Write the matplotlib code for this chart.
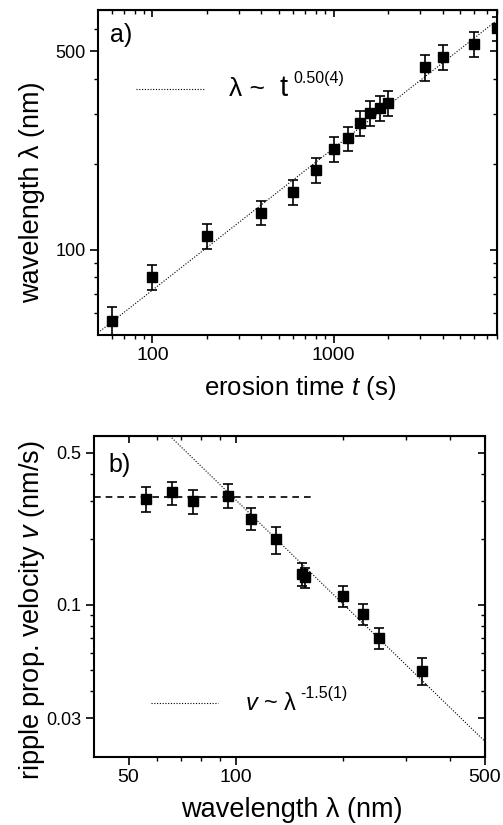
import numpy as np
import matplotlib.pyplot as plt

# panel a) ripple wavelength vs erosion time
t_a = [60, 100, 200, 400, 600, 800, 1000, 1200, 1400, 1600, 1800, 2000, 3200, 4000, 6000, 8000]
lam_a = [56, 80, 112, 135, 160, 191, 226, 247, 280, 303, 316, 330, 439, 479, 531, 603]
err_a = [7, 8, 11.5, 13, 16, 19, 23, 24, 28, 31, 31, 34, 46, 49, 53, 60]
fit_a = (7.2, 0.5)          # lambda = A * t^p

# panel b) ripple propagation velocity vs wavelength
lam_b = [56, 66, 76, 95, 110, 130, 153, 156, 200, 227, 252, 332]
v_b = [0.307, 0.329, 0.299, 0.318, 0.249, 0.200, 0.139, 0.134, 0.110, 0.0906, 0.0702, 0.0498]
err_b = [0.04, 0.04, 0.037, 0.04, 0.029, 0.028, 0.0165, 0.014, 0.012, 0.010, 0.0078, 0.007]
fit_b = (0.0235, 500, -1.59)  # v = A * (lambda/500)^p
plateau_b = (0.312, 166)      # constant level, drawn up to 166 nm

plt.rcParams['font.family'] = ['Liberation Sans', 'DejaVu Sans']
plt.rcParams['mathtext.fontset'] = 'custom'
plt.rcParams['mathtext.rm'] = 'Liberation Sans'
plt.rcParams['mathtext.it'] = 'Liberation Sans:italic'

W, H = 503, 825
fig = plt.figure(figsize=(W / 100, H / 100), dpi=100)


def px(x, y):
    return x / W, 1 - y / H


def style_axes(ax, major, minor, axis):
    for s in ax.spines.values():
        s.set_linewidth(1.5)
    sec = ax.secondary_xaxis('top') if axis == 'x' else ax.secondary_yaxis('right')
    sec.tick_params(which='major', direction='in', length=5, width=1.2)
    sec.tick_params(which='minor', direction='in', length=3, width=1.0)
    if axis == 'x':
        ax.tick_params(axis='x', which='major', direction='out', length=6, width=1.2, labelsize=14, pad=3)
        ax.tick_params(axis='x', which='minor', direction='out', length=3, width=1.0)
        ax.set_xticks(major)
        ax.set_xticks(minor, minor=True)
        ax.set_xticklabels([str(m) for m in major])
        ax.set_xticklabels([], minor=True)
        sec.set_xticks(major)
        sec.set_xticks(minor, minor=True)
        sec.set_xticklabels([])
        sec.set_xticklabels([], minor=True)
    else:
        ax.tick_params(axis='y', which='major', direction='out', length=6, width=1.2, labelsize=13, pad=3)
        ax.tick_params(axis='y', which='minor', direction='out', length=3, width=1.0)
        ax.set_yticks(major)
        ax.set_yticks(minor, minor=True)
        ax.set_yticklabels([str(m) for m in major])
        ax.set_yticklabels([], minor=True)
        sec.set_yticks(major)
        sec.set_yticks(minor, minor=True)
        sec.set_yticklabels([])
        sec.set_yticklabels([], minor=True)


# ---------------- panel a ----------------
axa = fig.add_axes([98 / W, 1 - 335 / H, 399 / W, 325 / H])
axa.set_xscale('log')
axa.set_yscale('log')
axa.set_xlim(50, 8000)
axa.set_ylim(50, 700)

tt = np.array(axa.get_xlim())
axa.plot(tt, fit_a[0] * tt ** fit_a[1], color='black', lw=0.8, ls=(0, (1, 1.5)))
axa.errorbar(t_a, lam_a, yerr=err_a, fmt='s', color='black', ms=6.5,
             capsize=3.5, elinewidth=1.2, capthick=1.2)

style_axes(axa, [100, 1000], [60, 70, 80, 90] + list(range(200, 1000, 100)) + list(range(2000, 9000, 1000)), 'x')
style_axes(axa, [100, 500], [60, 70, 80, 90, 200, 300, 400, 600], 'y')

axa.plot([0.095, 0.266], [0.757, 0.757], transform=axa.transAxes, color='black', lw=0.8, ls=(0, (1, 1.5)))
axa.text(0.328, 0.736, 'λ ~', transform=axa.transAxes, fontsize=19, va='baseline')
axa.text(0.456, 0.736, 't', transform=axa.transAxes, fontsize=21, va='baseline')
axa.text(0.489, 0.776, '0.50(4)', transform=axa.transAxes, fontsize=11.5, va='baseline')
axa.text(0.03, 0.923, 'a)', transform=axa.transAxes, fontsize=18, va='center')

fig.text(*px(32, 192), 'wavelength λ (nm)', rotation=90, fontsize=19.5, ha='center', va='center')
fig.text(*px(300, 388), 'erosion time $t$ (s)', fontsize=18.5, ha='center', va='center')

# ---------------- panel b ----------------
axb = fig.add_axes([94 / W, 1 - 756.7 / H, 391 / W, 321 / H])
axb.set_xscale('log')
axb.set_yscale('log')
axb.set_xlim(40, 500)
axb.set_ylim(0.02, 0.6)

ll = np.array(axb.get_xlim())
axb.plot(ll, fit_b[0] * (ll / fit_b[1]) ** fit_b[2], color='black', lw=0.8, ls=(0, (1, 1.5)))
axb.plot([ll[0], plateau_b[1]], [plateau_b[0], plateau_b[0]], color='black', lw=1.2, ls=(0, (4, 3)))
axb.errorbar(lam_b, v_b, yerr=err_b, fmt='s', color='black', ms=6.5,
             capsize=3.5, elinewidth=1.2, capthick=1.2)

style_axes(axb, [50, 100, 500], [60, 70, 80, 90, 200, 300, 400], 'x')
style_axes(axb, [0.03, 0.1, 0.5], [0.04, 0.05, 0.06, 0.07, 0.08, 0.09, 0.2, 0.3, 0.4], 'y')

axb.plot([0.147, 0.318], [0.167, 0.167], transform=axb.transAxes, color='black', lw=0.8, ls=(0, (1, 1.5)))
axb.text(0.386, 0.1455, '$v$ ~ λ', transform=axb.transAxes, fontsize=17, va='baseline')
axb.text(0.527, 0.183, '-1.5(1)', transform=axb.transAxes, fontsize=11.5, va='baseline')
axb.text(0.036, 0.909, 'b)', transform=axb.transAxes, fontsize=18, va='center')

fig.text(*px(32, 610), 'ripple prop. velocity $v$ (nm/s)', rotation=90, fontsize=19.5, ha='center', va='center')
fig.text(*px(292, 810), 'wavelength λ (nm)', fontsize=19.5, ha='center', va='center')

fig.savefig('out.png', dpi=100)
